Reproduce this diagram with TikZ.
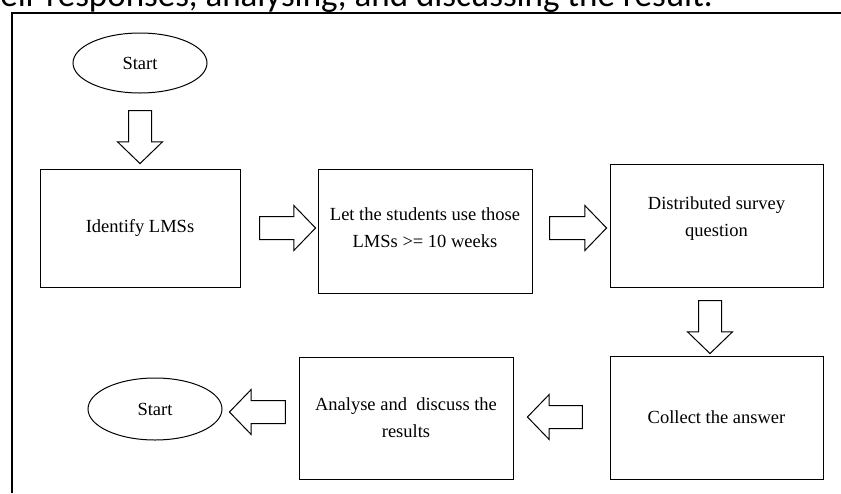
\documentclass[tikz,border=0pt]{standalone}
\usepackage{fontspec}
\setmainfont{Liberation Serif}
\newfontfamily\captfont{Carlito}
\usetikzlibrary{shapes.geometric, shapes.arrows}

\begin{document}
\begin{tikzpicture}[%
        x = 1pt,
        y = -1pt,
        line width = 1pt,
        font = \fontsize{18.5}{27}\selectfont,
        flowbox/.style = {draw, rectangle, align = center, inner sep = 0pt},
        oval/.style = {draw, ellipse, inner sep = 0pt,
            minimum width = 134pt},
        fatarrow/.style = {draw, fill = white, single arrow,
            inner xsep = 0pt, inner ysep = 11pt, minimum width = 0pt,
            single arrow head extend = 11pt,
            single arrow tip angle = 92}
    ]

        % Page size and clipping.
        \useasboundingbox (0, 0) rectangle (841, 493);
        \clip (0, 0) rectangle (841, 493);

        % Line of the text above, cut by the page.
        \node (capt) at (0, 6) [anchor = base west, inner sep = 0pt,
            font = \captfont\fontsize{35}{40}\selectfont]
            {eir responses, analysing, and discussing the result.};

        % Frame.
        \draw[line width = 1.3pt] (12, 493) -- (12, 13) -- (841, 13);

        % Steps of the flow.
        \node[oval, minimum height = 60pt] (start) at (140, 63) {Start};
        \node[flowbox, minimum width = 200pt, minimum height = 118pt]
            (ident) at (140, 228) {Identify LMSs};
        \node[flowbox, minimum width = 214pt, minimum height = 124pt]
            (use) at (425, 231) {};
        \node (usetxt) at (425, 228) [align = center]
            {Let the students use those\\LMSs >= 10 weeks};
        \node[flowbox, minimum width = 213pt, minimum height = 123pt]
            (survey) at (716.5, 225.5) {};
        \node (surveytxt) at (716.5, 219) [align = center]
            {Distributed survey\\question};
        \node[flowbox, minimum width = 213pt, minimum height = 123pt]
            (collect) at (716.5, 417.5) {Collect the answer};
        \node[flowbox, minimum width = 214pt, minimum height = 122pt]
            (analyse) at (406, 418) {Analyse and\ \ discuss the\\results};
        \node[oval, minimum height = 62pt] (stop) at (155, 409) {Start};

        % Block arrows between the steps.
        \node[fatarrow, minimum height = 53pt, rotate = -90]
            (a1) at (140, 131.5) {};
        \node[fatarrow, minimum height = 56pt] (a2) at (282, 228) {};
        \node[fatarrow, minimum height = 57pt] (a3) at (572.5, 228) {};
        \node[fatarrow, minimum height = 53pt, rotate = -90]
            (a4) at (710, 321.5) {};
        \node[fatarrow, minimum height = 55pt, rotate = 180]
            (a5) at (560.5, 417) {};
        \node[fatarrow, minimum height = 56pt, rotate = 180]
            (a6) at (263, 412) {};
    \end{tikzpicture}
\end{document}
